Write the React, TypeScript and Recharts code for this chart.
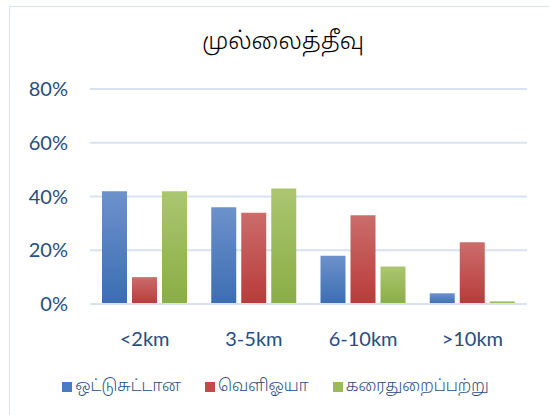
import React from "react";
import {
  Bar,
  BarChart,
  CartesianGrid,
  Legend,
  XAxis,
  YAxis,
} from "recharts";

const categories = ["<2km", "3-5km", "6-10km", ">10km"];
const oddusuddan = [0.42, 0.36, 0.18, 0.04];
const vavuniya = [0.1, 0.34, 0.33, 0.23];
const karaithuraipattu = [0.42, 0.43, 0.14, 0.01];
const yTicks = [0, 0.2, 0.4, 0.6, 0.8];

const seriesInfo = [
  { key: "oddusuddan", name: "ஒட்டுசுட்டான", top: "#6d92cb", bottom: "#3b6db3", swatch: "#4a7ac0" },
  { key: "vavuniya", name: "வெளிஓயா", top: "#cb6d6b", bottom: "#b83b3a", swatch: "#c44a48" },
  { key: "karaithuraipattu", name: "கரைதுறைப்பற்று", top: "#abc670", bottom: "#8aad45", swatch: "#9bbb58" },
];

const data = categories.map((c, i) => ({
  name: c,
  oddusuddan: oddusuddan[i],
  vavuniya: vavuniya[i],
  karaithuraipattu: karaithuraipattu[i],
}));

const axisColor = "#284d80";
const font = "Lato, 'Noto Sans', sans-serif";
const tamilFont = "'Noto Sans Tamil', 'Lohit Tamil', 'Noto Serif Tamil', FreeSerif, 'Noto Sans', sans-serif";

function LegendContent() {
  return (
    <div style={{ display: "flex", justifyContent: "center", gap: 24, fontFamily: tamilFont, fontSize: 16, fontWeight: 300, color: axisColor, paddingLeft: 14 }}>
      {seriesInfo.map((s) => (
        <span key={s.key} style={{ display: "flex", alignItems: "center" }}>
          <span style={{ width: 10, height: 10, background: s.swatch, marginRight: 3, display: "inline-block" }} />
          {s.name}
        </span>
      ))}
    </div>
  );
}

export default function App() {
  return (
    <div style={{ position: "absolute", left: 0, top: 0, width: 549, height: 415, background: "#fff" }}>
      <div
        style={{
          position: "absolute",
          left: 9,
          top: 6,
          width: 560,
          height: 420,
          border: "1.5px solid #d7e3f1",
          boxSizing: "border-box",
        }}
      />
      <div
        style={{
          position: "absolute",
          top: 28,
          left: 0,
          width: 566,
          textAlign: "center",
          fontSize: 24,
          fontWeight: 300,
          fontFamily: tamilFont,
          color: "#000",
        }}
      >
        முல்லைத்தீவு
      </div>
      <BarChart
        width={549}
        height={415}
        data={data}
        margin={{ top: 89, right: 22, left: 10, bottom: 43 }}
        barSize={25}
        barGap={5}
      >
        <defs>
          {seriesInfo.map((s) => (
            <linearGradient key={s.key} id={`g-${s.key}`} x1="0" y1="0" x2="0" y2="1">
              <stop offset="0%" stopColor={s.top} />
              <stop offset="100%" stopColor={s.bottom} />
            </linearGradient>
          ))}
        </defs>
        <CartesianGrid vertical={false} stroke="#d7e3f1" strokeWidth={2} />
        <XAxis
          dataKey="name"
          axisLine={{ stroke: "#d7e3f1", strokeWidth: 2 }}
          tickLine={false}
          tick={{ fill: axisColor, fontSize: 20, fontFamily: font }}
          tickMargin={22}
          height={48}
        />
        <YAxis
          width={80}
          domain={[0, 0.8]}
          ticks={yTicks}
          tickFormatter={(v: number) => `${Math.round(v * 100)}%`}
          axisLine={false}
          tickLine={false}
          tick={{ fill: axisColor, fontSize: 20, fontFamily: font }}
          tickMargin={16}
        />
        <Legend verticalAlign="bottom" content={<LegendContent />} wrapperStyle={{ top: 377 }} />
        {seriesInfo.map((s) => (
          <Bar
            key={s.key}
            dataKey={s.key}
            name={s.name}
            fill={`url(#g-${s.key})`}
            isAnimationActive={false}
          />
        ))}
      </BarChart>
    </div>
  );
}
